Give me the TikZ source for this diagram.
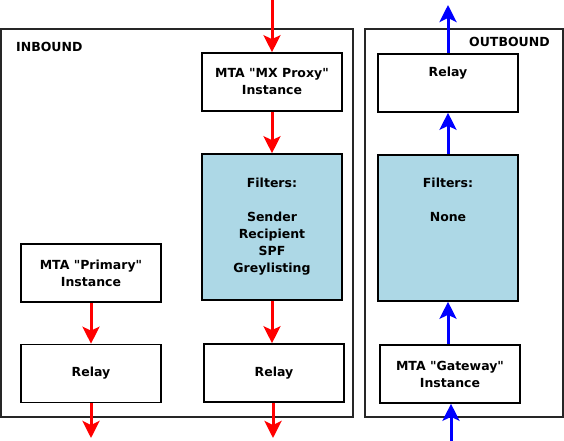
\documentclass[tikz,border=0pt]{standalone}
\usepackage{fontspec}
\setmainfont{DejaVu Sans}[Ligatures=TeXOff]
\usetikzlibrary{arrows.meta}
\definecolor{filtblue}{RGB}{173,216,230}
\begin{document}
\begin{tikzpicture}[x=1pt,y=-1pt,
  box/.style={draw=black, line width=1.6pt, fill=white, minimum width=140pt, minimum height=58pt, inner sep=0pt, align=center, font=\fontsize{12.5}{17}\selectfont\bfseries},
  filt/.style={box, fill=filtblue, minimum height=146pt},
  cont/.style={draw=black!85, line width=1.6pt, inner sep=0pt},
  ttl/.style={font=\fontsize{12.5}{15}\selectfont\bfseries, inner sep=0pt, anchor=west},
  redarr/.style={draw=red, line width=3pt, -{Stealth[length=17pt,width=17pt,inset=4pt]}},
  bluearr/.style={redarr, draw=blue}]
\useasboundingbox (0,0) rectangle (564,441);
% containers
\node[cont, minimum width=352pt, minimum height=388pt] (inb) at (177,223) {};
\node[cont, minimum width=198pt, minimum height=388pt] (outb) at (464,223) {};
\node[ttl] (inbt) at (16,47) {INBOUND};
\node[ttl] (outbt) at (469,42) {OUTBOUND};
% inbound boxes
\node[box] (mx) at (272,82) {MTA "MX Proxy"\\Instance};
\node[filt] (ifilt) at (272,227) {Filters:\\\strut\\Sender\\Recipient\\SPF\\Greylisting};
\node[box] (primary) at (91,273) {MTA "Primary"\\Instance};
\node[box] (relay1) at (91,373.5) {Relay};
\node[box] (relay2) at (274,373) {Relay};
% outbound boxes
\node[box] (orelay) at (448,83) {Relay\\\strut};
\node[filt] (ofilt) at (448,228) {Filters:\\\strut\\None\\\strut\\\strut\\\strut};
\node[box] (gateway) at (450,374) {MTA "Gateway"\\Instance};
% free ends
\coordinate (inTop) at (272,0);
\coordinate (out1) at (91,438);
\coordinate (out2) at (273,438);
\coordinate (gwIn) at (451,441);
\coordinate (outTop) at (448,5);
% red connectors
\draw[redarr] (inTop) -- (mx.north);
\draw[redarr] (mx.south) -- (ifilt.north);
\draw[redarr] (ifilt.south) -- (ifilt.south |- relay2.north);
\draw[redarr] (primary.south) -- (relay1.north);
\draw[redarr] (relay1.south) -- (out1);
\draw[redarr] (relay2.south -| out2) -- (out2);
% blue connectors
\draw[bluearr] (gwIn) -- (gwIn |- gateway.south);
\draw[bluearr] (gateway.north -| ofilt.south) -- (ofilt.south);
\draw[bluearr] (ofilt.north) -- (orelay.south);
\draw[bluearr] (orelay.north) -- (outTop);
\end{tikzpicture}
\end{document}
